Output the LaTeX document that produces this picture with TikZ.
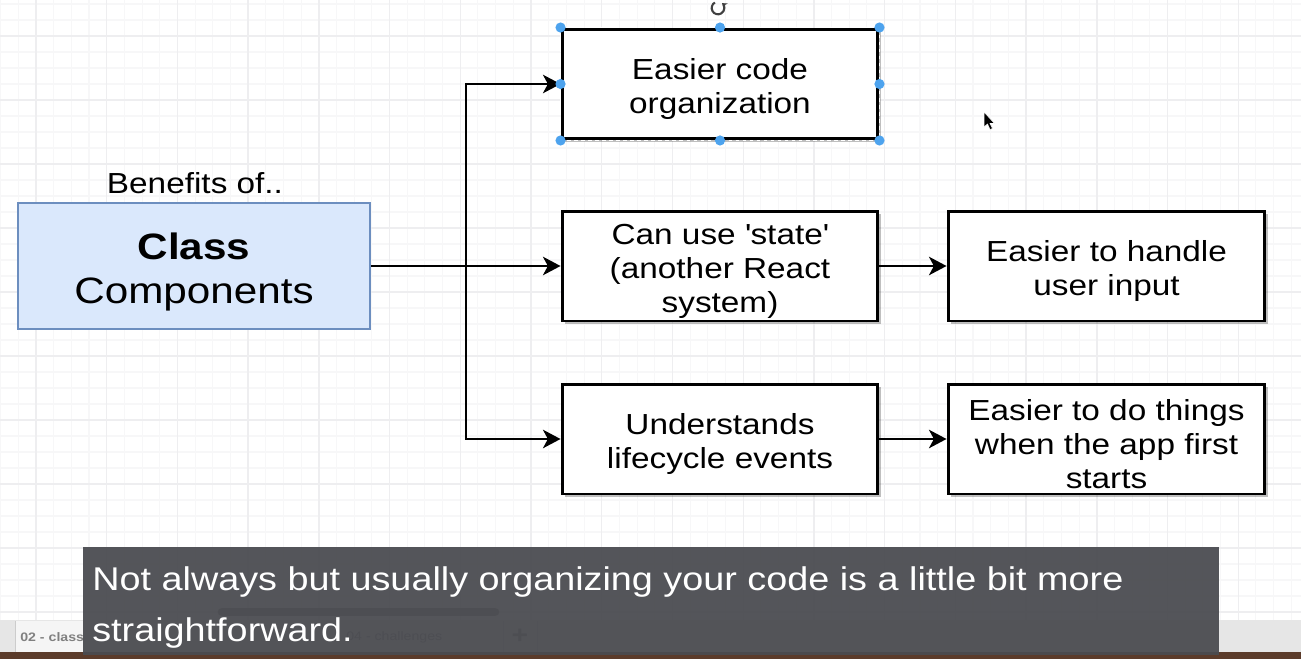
\documentclass[tikz,border=0pt]{standalone}
\usepackage{fontspec}
\setmainfont{Liberation Sans}[FakeStretch=1.15]
\usepackage{tikz}
\usetikzlibrary{arrows.meta}
\usetikzlibrary{shadows}

\definecolor{classfill}{HTML}{DAE8FC}
\definecolor{classline}{HTML}{6C8EBF}
\definecolor{handle}{HTML}{4DA3EE}
\definecolor{subbg}{HTML}{4A4B50}
\definecolor{gridminor}{HTML}{F7F7F8}
\definecolor{gridmajor}{HTML}{EEEEF0}
\definecolor{tabbar}{HTML}{E6E6E6}
\definecolor{desk}{HTML}{5B3B2A}

\newcommand{\boxfont}{\fontsize{16.5}{19.3}\selectfont}
\newcommand{\boxstrut}{\rule{0pt}{18pt}}
\newcommand{\classstrut}{\rule{0pt}{21.5pt}}

\begin{document}
\begin{tikzpicture}[x=0.02cm, y=-0.02cm,
    >={Stealth[length=10pt, width=10.5pt, inset=2.8pt]},
    gridline/.style={gridminor, line width=0.6pt},
    gridbold/.style={gridmajor, line width=0.8pt},
    box/.style={draw, line width=1.7pt, fill=white, minimum width=6.32cm, minimum height=2.2cm,
        inner ysep=0pt, align=center, font=\boxfont,
        drop shadow={shadow xshift=1.6pt, shadow yshift=-1.6pt, opacity=0.25, fill=black}},
    classbox/.style={draw=classline, fill=classfill, line width=1.4pt, minimum width=7.04cm,
        minimum height=2.52cm, inner ysep=0pt, align=center, font=\fontsize{20.9}{25}\selectfont},
    link/.style={->, line width=1.4pt},
    subtext/.style={white, font=\fontsize{18.7}{31}\selectfont, inner sep=0pt}]
    % Canvas
    \useasboundingbox (0,0) rectangle (1301,659);
    \fill[white] (0,0) rectangle (1301,659);

    % Grid
    \foreach \i in {0,...,73} \draw[gridline] ({0.6+17.68*\i},0) -- ++(0,620);
    \foreach \j in {0,...,38} \draw[gridline] (0,{4+16*\j}) -- ++(1301,0);
    \foreach \i in {0,...,18} \draw[gridbold] ({36+70.72*\i},0) -- ++(0,620);
    \foreach \j in {0,...,9} \draw[gridbold] (0,{36+64*\j}) -- ++(1301,0);

    % Class Components
    \node (benefits) at (195,183) {\boxfont Benefits of..};
    \node[classbox] (cls) at (194,266) {\classstrut{\bfseries Class}\\Components};

    % Benefits
    \node[box] (organize) at (720,84) {\boxstrut Easier code\\organization};
    \node[box] (state) at (720,266) {\boxstrut Can use \textquotesingle state\textquotesingle\\(another React\\system)};
    \node[box] (lifecycle) at (720,439) {\boxstrut Understands\\lifecycle events};
    \node[box, minimum width=6.34cm] (input) at (1106.5,266) {\boxstrut Easier to handle\\user input};
    \node[box, minimum width=6.34cm] (startup) at (1106.5,439) {\boxstrut Easier to do things\\when the app first\\starts};

    % Arrows
    \coordinate (split) at (466,266);
    \draw[link] (cls) -- (state);
    \draw[link] (split) |- (organize);
    \draw[link] (split) |- (lifecycle);
    \draw[link] (state) -- (input);
    \draw[link] (lifecycle) -- (startup);

    % Selection handles
    \draw[white, line width=0.5pt, dash pattern=on 2pt off 2pt] (organize.north west) rectangle (organize.south east);
    \foreach \a in {north west, north, north east, east, south east, south, south west, west}
        \fill[handle] (organize.\a) circle (2.9pt);
    \draw[line width=1.2pt, black!75, -{Stealth[length=2.6pt, width=3.8pt]}] (718,8) ++(120:3.6pt) arc[start angle=120, end angle=410, radius=3.6pt];

    % Mouse pointer
    \filldraw[fill=black, draw=white, line width=0.3pt] (984,112) -- (984,127) -- (987.5,124) -- (990,129.5) -- (992.5,128.5) -- (990,123.5) -- (994.5,123.5) -- cycle;

    % Tab bar
    \fill[tabbar] (0,620) rectangle (1301,652);
    \fill[white!96!black] (15,621) rectangle (83,652);
    \draw[black!20] (15,621) -- (15,652) (503,621) -- (503,652) (537,621) -- (537,652);
    \node[anchor=west, black!50, font=\fontsize{7}{8}\selectfont\bfseries, inner sep=0pt] (tab2) at (20,637) {02 - class};
    \node[anchor=west, black!50, font=\fontsize{7}{8}\selectfont, inner sep=0pt] (tab4) at (346,637) {04 - challenges};
    \node[black!50, font=\fontsize{14}{14}\selectfont\bfseries, inner sep=0pt] (tabadd) at (520,636) {+};
    \draw[black!45, line width=5pt, line cap=round] (222,612) -- (495,612);
    \fill[desk] (0,652) rectangle (1301,659);

    % Subtitle
    \fill[subbg, opacity=0.94] (83,547) rectangle (1219,655);
    \node[subtext, anchor=base west] (sub1) at (92,590) {Not always but usually organizing your code is a little bit more};
    \node[subtext, anchor=base west] (sub2) at (92,641) {straightforward.};
\end{tikzpicture}
\end{document}
